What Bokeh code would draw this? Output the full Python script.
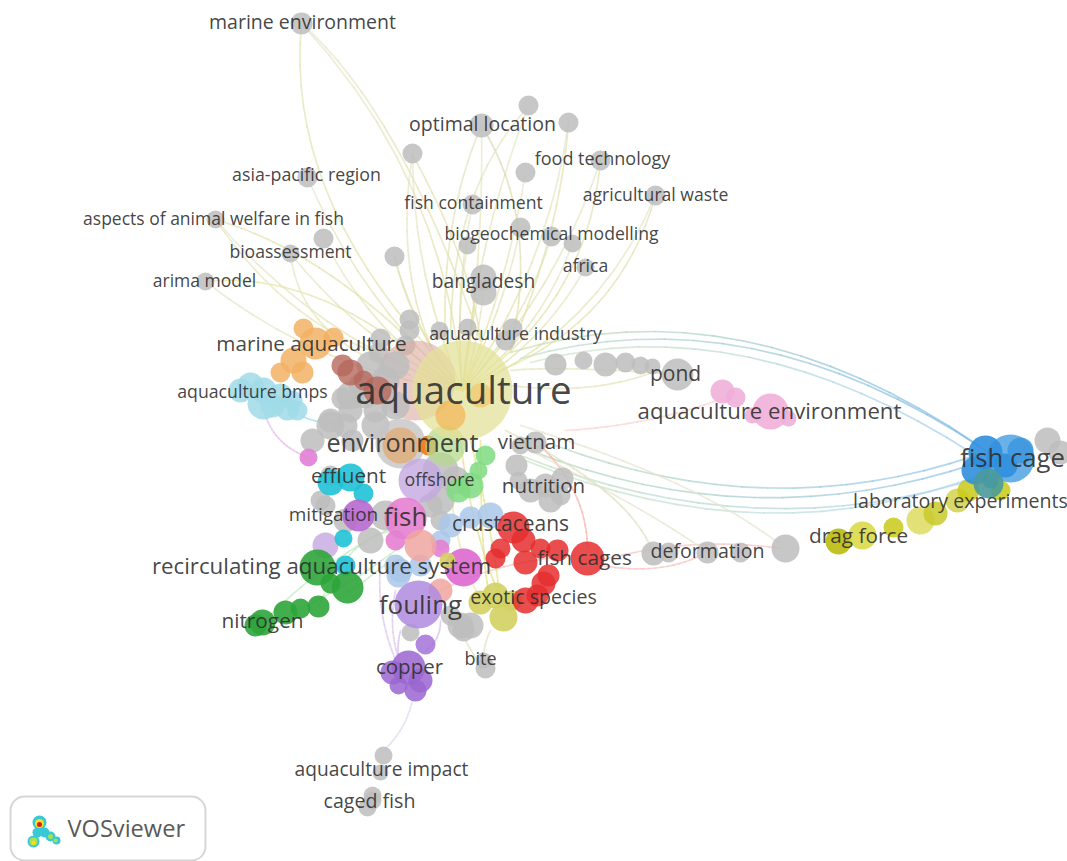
from bokeh.plotting import figure
from bokeh.models import ColumnDataSource, Range1d
from bokeh.embed import file_html
from bokeh.resources import INLINE
from bokeh.core.properties import value

# ---- data: map coordinates and weights of the keyword network ----
hub = (462, 390)

gray_outer_x = [301,528,568,481,412,600,525,307,655,472,215,323,520,467,551,572,290,394,585,205,483,483]
gray_outer_y = [23,105,122,125,153,160,172,177,195,204,219,238,227,245,236,243,253,256,267,281,277,292]
gray_outer_r = [11,10,10,12,10,10,10,10,10,10,9,10,10,9,10,9,9,10,9,9,13,13]
gray_outer_bend = [-70,20,-35,-12,25,-30,-14,30,-55,14,40,30,-12,10,-20,-28,25,18,-25,38,5,-5]

gray_x = [409,409,405,380,378,439,467,512,505,555,583,605,625,640,652,677,
          653,668,707,740,785,1047,1060,400,330,342,360,312,330,350,370,385,350,375,
          320,330,370,385,440,455,430,440,440,535,520,516,518,545,562,560,530,550,
          460,470,450,463,410,485,483,383,380,372,367,372,345,325,
          395,365,345,395,375,352]
gray_y = [319,330,345,338,352,330,327,328,340,364,360,364,362,365,366,374,
          553,552,552,552,548,440,452,443,420,398,385,440,425,410,365,380,395,410,
          500,475,540,515,470,480,505,520,500,442,445,465,480,485,478,495,490,500,
          625,625,615,630,632,668,660,755,772,795,807,800,520,505,
          365,395,425,405,425,440]
gray_r = [10,10,10,10,10,9,9,10,10,11,9,12,10,9,8,16,
          12,10,11,10,14,13,12,25,12,11,12,12,14,12,14,14,14,12,
          10,10,13,15,18,14,12,10,14,11,9,11,9,12,11,10,12,12,
          13,13,10,11,9,10,8,9,8,9,9,9,12,10,
          14,13,12,14,14,11]

back_x = [415,462,445,400,450,480,428]
back_y = [380,390,445,445,415,395,445]
back_r = [40,50,20,18,15,12,10]
back_c = ["#dcaaa2","#e3e096","#b5d98e","#e2a66c","#f2b75a","#efc76e","#f47b20"]

orange_x = [303,315,333,280,293,302]
orange_y = [328,343,337,372,360,372]
orange_r = [10,16,10,10,13,11]
brown_x = [342,350,363,377]
brown_y = [365,372,380,390]
brown_r = [11,13,10,14]
teal_x = [240,250,263,263,287,297,280,272,292]
teal_y = [390,385,390,403,408,410,395,405,400]
teal_r = [12,13,13,16,12,10,12,12,10]
cyan_x = [350,330,363,343,345]
cyan_y = [477,482,493,538,565]
cyan_r = [14,13,10,9,10]
lavender_x = [420,325]
lavender_y = [480,545]
lavender_r = [22,13]
pink_x = [308,358,405,395,463,440]
pink_y = [457,515,518,540,567,548]
pink_r = [9,16,21,10,19,9]
pink_c = ["#e17fd6","#b868d0","#e47fd0","#e47fd0","#de68d0","#e47fd0"]
salmon_x = [420,440]
salmon_y = [545,590]
salmon_r = [16,12]
sky_x = [450,470,490,440,400,420,395,398]
sky_y = [525,517,515,540,570,565,565,575]
sky_r = [12,11,13,10,12,11,11,12]
lime_x = [485,478,470,458]
lime_y = [455,470,485,490]
lime_r = [10,9,13,12]
olive_x = [447,480,495,503,512]
olive_y = [560,602,595,617,600]
olive_r = [8,12,13,14,10]
blue_x = [1010,985,975,1005,1020,990]
blue_y = [458,452,470,465,450,480]
blue_r = [24,17,14,12,13,8]
blue_c = ["#5aa8e6","#2f8fde","#2f8fde","#2f8fde","#3f98e0","#2f8fde"]
yellow_x = [838,862,893,920,935,957,968,1000]
yellow_y = [541,535,527,520,513,500,490,490]
yellow_r = [13,14,10,14,12,12,11,10]
yellow_c = ["#b7b700","#d8d840","#c9c916","#dcdc60","#c9c92a","#d2d24c","#c9c916","#c9c916"]
teal_dark = (988, 483, 15)
red_x = [513,523,500,495,525,540,557,587,548,543,537,525]
red_y = [527,540,548,558,562,548,550,558,575,583,595,600]
red_r = [16,12,10,10,12,10,11,17,11,12,11,13]
purple_x = [418,425,408,392,398,415,420]
purple_y = [604,644,667,672,685,690,680]
purple_r = [24,10,17,12,9,11,12]
purple_c = ["#b08ae0","#a572d8","#9a66d0","#9a66d0","#9a66d0","#9a66d0","#9a66d0"]
green_x = [317,347,330,262,255,285,300,318]
green_y = [567,587,583,622,625,612,608,606]
green_r = [18,16,10,13,11,12,10,11]
rose_x = [722,735,770,752,788]
rose_y = [391,397,411,415,418]
rose_r = [12,10,18,8,8]

label_text = ["marine environment","optimal location","food technology","asia-pacific region","agricultural waste",
              "fish containment","aspects of animal welfare in fish","biogeochemical modelling","bioassessment","africa",
              "arima model","bangladesh","aquaculture industry","marine aquaculture","pond","aquaculture bmps","aquaculture",
              "aquaculture environment","environment","vietnam","effluent","offshore","nutrition","mitigation","fish",
              "crustaceans","recirculating aquaculture system","fish cages","deformation","fouling","exotic species","copper",
              "bite","aquaculture impact","caged fish","fish cage","laboratory experiments","drag force","nitrogen"]
label_x = [302,482,602,306,655,473,213,551,290,585,204,483,515,311,675,252,463,769,402,536,348,439,543,333,405,510,321,584,707,420,533,409,480,381,369,1012,960,858,262]
label_y = [23,125,159,175,195,203,219,234,252,266,281,282,334,344,374,392,390,412,443,442,476,480,486,515,517,524,567,558,552,605,598,667,659,770,802,459,502,536,621]
label_s = [19.5,19.5,18,17.8,17.6,17.6,17.5,17.6,17.6,17.6,17.5,19.2,17.8,20.7,21,17.7,38.5,22.2,25.3,20.6,20.7,17.8,20.5,19,26,21,22.3,20.8,19.6,25.9,19.6,20.5,18,19.2,19.6,25.7,19.6,20.8,20.8]

# extra links: start, control, end, start colour, end colour
links = [
 (301,23, 285,190, 430,350, "#e3e3b8","#e3e3a8"),
 (301,23, 400,110, 480,340, "#e6e6cf","#e3e3a8"),
 # fish cage arcs over the top
 (510,352, 740,282, 978,445, "#cfe3b0","#7ab8e8"),
 (520,358, 750,292, 985,450, "#c6e0c8","#7ab8e8"),
 (530,362, 745,305, 975,455, "#d3e6c0","#a0cdf0"),
 # fish cage arcs underneath
 (530,450, 754,538, 978,462, "#b7d8b8","#8cc2ec"),
 (555,445, 770,525, 975,455, "#bcdcc0","#8cc2ec"),
 (520,455, 760,550, 985,475, "#c3e0c0","#a4d0f0"),
 (525,460, 770,560, 990,470, "#c9e2c4","#b4d8f2"),
 # salmon links around fish cages
 (540,445, 585,490, 587,545, "#f5b5ac","#f5b5ac"),
 (600,560, 690,535, 780,548, "#f7c4bd","#f7c4bd"),
 (600,565, 660,575, 700,555, "#f7c4bd","#f7c4bd"),
 (565,430, 650,425, 722,398, "#f8d4cf","#f8d4cf"),
 (440,590, 500,560, 575,555, "#f7c4bd","#f7c4bd"),
 # yellow links below the hub
 (460,440, 470,530, 505,610, "#e3e38c","#e3e38c"),
 (470,440, 490,520, 500,600, "#e3e38c","#e3e38c"),
 (450,440, 445,530, 480,600, "#e8e8a8","#e8e8a8"),
 (480,440, 480,560, 490,600, "#e3e38c","#e3e38c"),
 (510,440, 650,510, 707,552, "#e6e6cf","#e6e6cf"),
 (505,430, 630,490, 653,553, "#e0e0c0","#e0e0c0"),
 (520,425, 700,480, 785,548, "#e6e6cf","#e6e6cf"),
 (490,630, 480,650, 485,668, "#e4e4cf","#e4e4cf"),
 (460,630, 470,650, 480,665, "#e4e4cf","#e4e4cf"),
 # light green to the lower left
 (410,520, 340,545, 262,622, "#c4eac4","#c4eac4"),
 (420,530, 360,580, 300,608, "#c4eac4","#c4eac4"),
 (400,530, 350,530, 318,606, "#c4eac4","#c4eac4"),
 (390,560, 340,600, 347,590, "#c4eac4","#c4eac4"),
 # lavender and purple
 (265,415, 275,445, 308,457, "#dcc8f0","#f0b8e4"),
 (412,700, 405,730, 383,750, "#e6dcf2","#e6dcf2"),
 (400,630, 395,650, 400,670, "#d8c4f0","#d8c4f0"),
 (380,560, 375,620, 400,670, "#dcc8f0","#dcc8f0"),
 (395,590, 385,640, 408,680, "#dcc8f0","#dcc8f0"),
 (440,620, 440,640, 425,650, "#dcc8f0","#dcc8f0"),
 (300,415, 320,425, 340,420, "#a8e0ec","#a8e0ec"),
 # yellow links to the chain on the right
 (510,370, 560,365, 677,374, "#e6e6b8","#e6e6b8"),
 (510,385, 590,395, 652,372, "#e6e6b8","#e6e6b8"),
 # fan back toward the hub
 (655,195, 620,320, 500,370, "#e3e3b8","#e3e3a8"),
 (600,159, 590,280, 500,360, "#e3e3b8","#e3e3a8"),
 (205,281, 310,270, 420,360, "#e6e6a8","#e3e3a8"),
 (215,219, 290,330, 400,360, "#e8e8c8","#e3e3a8"),
 (290,253, 300,340, 410,375, "#e8e8c8","#e3e3a8"),
 (215,219, 320,250, 420,350, "#e3e3b8","#e3e3a8"),
 (394,256, 405,300, 430,345, "#e3e3b8","#e3e3a8"),
 (481,125, 440,220, 445,340, "#e3e3c8","#e3e3a8"),
 (481,125, 540,220, 510,350, "#d8d8b8","#e3e3a8"),
 (568,122, 560,230, 510,350, "#e3e3b8","#e3e3a8"),
 (528,106, 450,190, 450,340, "#e6e6cf","#e3e3a8"),
 (412,154, 395,260, 430,345, "#e6e6cf","#e3e3a8"),
 (412,154, 470,260, 480,340, "#e3e3b8","#e3e3a8"),
]

logo_x = [39,37,33,44,50,56,39,39,33,33,50,55,33]
logo_y = [822,832,841,832,836,840,823,824,841,842,836,840,843]
logo_r = [7,5,6,5,5,4,4.5,2.5,4,2,2.5,2,1.5]
logo_c = ["#38c8d8","#38c8d8","#38c8d8","#38c8d8","#38c8d8","#38c8d8","#f6e020","#d8201c","#a8e050","#f6e020","#a8e050","#a8e050","#f6e020"]


def hex2rgb(c):
    return tuple(int(c[i:i+2], 16) for i in (1, 3, 5))


def sample(x0, y0, cx, cy, x1, y1, col0, col1, n=10):
    """Split one curved link in short pieces so its colour can shift along it."""
    xs, ys, cs = [], [], []
    a, b = hex2rgb(col0), hex2rgb(col1)
    prev = (x0, y0)
    for i in range(1, n + 1):
        t = i / n
        px = (1-t)**2*x0 + 2*(1-t)*t*cx + t*t*x1
        py = (1-t)**2*y0 + 2*(1-t)*t*cy + t*t*y1
        xs.append([prev[0], px])
        ys.append([prev[1], py])
        m = (i - .5) / n
        cs.append("#%02x%02x%02x" % tuple(int(a[k] + (b[k]-a[k])*m) for k in range(3)))
        prev = (px, py)
    return xs, ys, cs


p = figure(width=1067, height=861, output_backend="svg", toolbar_location=None,
           x_range=Range1d(0, 1067), y_range=Range1d(861, 0), min_border=0)
p.axis.visible = False
p.grid.visible = False
p.outline_line_color = None
p.background_fill_color = "#ffffff"
p.border_fill_color = "#ffffff"

# links
ex, ey, ec = [], [], []
for x, y, b in zip(gray_outer_x, gray_outer_y, gray_outer_bend):
    mx, my = (x + hub[0]) / 2, (y + hub[1]) / 2
    dx, dy = hub[0] - x, hub[1] - y
    ln = (dx*dx + dy*dy) ** .5
    cx, cy = mx - dy/ln*b, my + dx/ln*b
    a, c, d = sample(x, y, cx, cy, hub[0], hub[1], "#e6e6d0", "#e2e29c")
    ex += a; ey += c; ec += d
for x0, y0, cx, cy, x1, y1, c0, c1 in links:
    a, c, d = sample(x0, y0, cx, cy, x1, y1, c0, c1, 16)
    ex += a; ey += c; ec += d
p.multi_line(ex, ey, line_color=ec, line_width=1.7, line_alpha=0.7, line_cap="round")


def nodes(x, y, r, color, alpha=0.85):
    p.circle(x=x, y=y, radius=r, fill_color=color, fill_alpha=alpha, line_color=None)


nodes(gray_x[:23], gray_y[:23], gray_r[:23], "#bdbdbd")
nodes(gray_outer_x, gray_outer_y, gray_outer_r, "#bdbdbd")
nodes(back_x[:1], back_y[:1], back_r[:1], back_c[0], 0.6)
nodes(gray_x[24:], gray_y[24:], gray_r[24:], "#bdbdbd")
nodes(gray_x[23:24], gray_y[23:24], gray_r[23:24], "#c4c4c4", 0.8)
nodes(back_x[6:], back_y[6:], back_r[6:], back_c[6], 0.95)
nodes(back_x[3:4], back_y[3:4], back_r[3:4], back_c[3], 0.7)
nodes(back_x[2:3], back_y[2:3], back_r[2:3], back_c[2], 0.75)
nodes(back_x[1:2], back_y[1:2], back_r[1:2], back_c[1], 0.72)
nodes(back_x[4:6], back_y[4:6], back_r[4:6], back_c[4:6], 0.75)
nodes(orange_x, orange_y, orange_r, "#f2b264", 0.85)
nodes(brown_x, brown_y, brown_r, "#b5685c", 0.8)
nodes(teal_x, teal_y, teal_r, "#9fdbe8", 0.85)
nodes(lavender_x, lavender_y, lavender_r, "#c4a8e0", 0.8)
nodes(sky_x, sky_y, sky_r, "#a9c7ea", 0.85)
nodes(lime_x, lime_y, lime_r, "#7fdb80", 0.85)
nodes(cyan_x, cyan_y, cyan_r, "#1fc1d6", 0.9)
nodes(pink_x, pink_y, pink_r, pink_c, 0.9)
nodes(salmon_x, salmon_y, salmon_r, "#f0a6a0", 0.85)
nodes(olive_x, olive_y, olive_r, "#d2d060", 0.9)
nodes(red_x, red_y, red_r, "#e52e2e", 0.85)
nodes(purple_x, purple_y, purple_r, purple_c, 0.85)
nodes(green_x, green_y, green_r, "#2ea53a", 0.9)
nodes(rose_x, rose_y, rose_r, "#f0afd8", 0.9)
nodes(yellow_x, yellow_y, yellow_r, yellow_c, 0.85)
nodes(blue_x, blue_y, blue_r, blue_c, 0.9)
nodes([teal_dark[0]], [teal_dark[1]], [teal_dark[2]], "#4a9a9a", 0.9)

# labels
src = ColumnDataSource(dict(x=label_x, y=label_y, t=label_text, s=["%gpx" % s for s in label_s]))
p.text(x="x", y="y", text="t", source=src, text_font=value("Open Sans"), text_font_size="s",
       text_align="center", text_baseline="middle", text_color="#2e2e2e", text_alpha=0.9, y_offset=-2)

# logo box
p.quad(left=[10], right=[205], top=[796], bottom=[860], fill_color="#ffffff",
       line_color="#d6d6d6", line_width=2, border_radius=14)
p.circle(x=logo_x, y=logo_y, radius=logo_r, fill_color=logo_c, line_color=None)
p.text(x=[67], y=[829], text=["VOSviewer"], text_font=value("Open Sans"), text_font_size="23.6px",
       text_align="left", text_baseline="middle", text_color="#5a5a5a", y_offset=-2)

open("out.html", "w").write(file_html(p, INLINE))
